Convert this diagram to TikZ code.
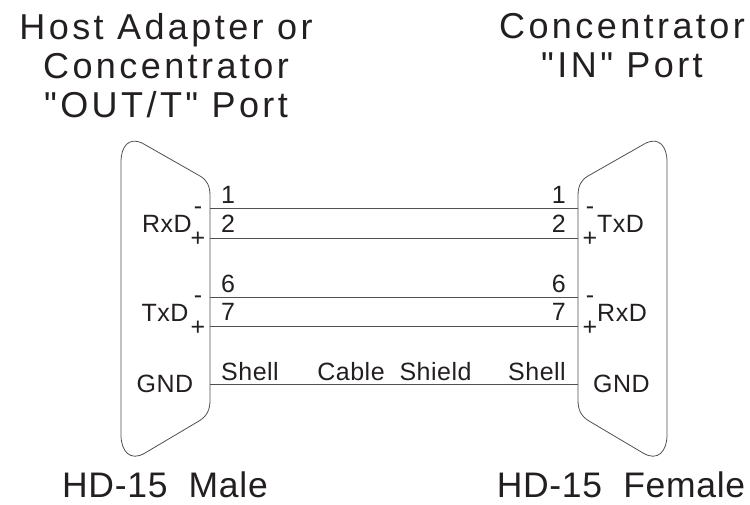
\documentclass[tikz,border=0pt]{standalone}
\usepackage{fontspec}
\newfontfamily\headfont{Liberation Sans}[LetterSpace=9.5]
\newfontfamily\footfont{Liberation Sans}[LetterSpace=2]
\newfontfamily\pinfont{Liberation Sans}[LetterSpace=2]
\definecolor{ink}{HTML}{231F20}
\definecolor{wire}{HTML}{505050}
\tikzset{
	headtext/.style={font=\headfont\fontsize{36}{39}\selectfont, text=ink, align=center, inner sep=0pt},
	foottext/.style={font=\footfont\fontsize{35.5}{39}\selectfont, text=ink, inner sep=0pt},
	pintext/.style={font=\pinfont\fontsize{25}{28}\selectfont, text=ink, inner sep=0pt},
	shell/.style={draw=wire, line width=0.8pt},
	cable/.style={draw=wire, line width=0.8pt}
}
% outline of one D-sub shell, narrow side to the right
\def\dshell[#1]{\draw[#1] (121,162) .. controls (121,146) and (129,137) .. (142,143) -- (200,176)
	.. controls (207,180) and (210,186) .. (210,196) -- (210,400)
	.. controls (210,410) and (207,416) .. (199,421) -- (145,453)
	.. controls (130,462) and (121,451) .. (121,435) -- cycle;}

\begin{document}
\begin{tikzpicture}[x=1pt, y=-1pt]
	\useasboundingbox (0,0) rectangle (750,505);
	%%%%% TITLES %%%%%
	\node[headtext, anchor=north] (hostttl) at (166,13) {Host Adapter or\\Concentrator\\"OUT/T" Port};
	\node[headtext, anchor=north] (concttl) at (622,13) {Concentrator\\"IN" Port};
	\node[foottext, anchor=base] (male) at (165,497) {HD-15~~Male};
	\node[foottext, anchor=base] (female) at (621,497) {HD-15~~Female};

	%%%%% SHELLS %%%%%
	\dshell[shell]
	\begin{scope}[xshift=788pt, xscale=-1]
		\dshell[shell]
	\end{scope}

	%%%%% WIRES %%%%%
	\foreach \n/\y in {a/208, b/238, c/297, d/326, e/384} {
		\coordinate (wl\n) at (210,\y);
		\coordinate (wr\n) at (578,\y);
		\draw[cable] (wl\n) -- (wr\n);
	}
	\foreach \p/\y in {1/204, 2/233, 6/292, 7/320} {
		\node[pintext, anchor=base west] (lp\p) at (221,\y) {\p};
		\node[pintext, anchor=base east] (rp\p) at (566,\y) {\p};
	}
	\node[pintext, anchor=base west] (lshell) at (221,380) {Shell};
	\node[pintext, anchor=base] (shield) at (394.5,380) {Cable~~Shield};
	\node[pintext, anchor=base east] (rshell) at (566,380) {Shell};

	%%%%% SIGNALS %%%%%
	\node[pintext, anchor=base] (lrxd) at (167,233) {RxD};
	\node[pintext, anchor=base] (lrxdm) at (198,215) {-};
	\node[pintext, anchor=base] (lrxdp) at (198,247) {+};
	\node[pintext, anchor=base] (ltxd) at (165,321) {TxD};
	\node[pintext, anchor=base] (ltxdm) at (198,303) {-};
	\node[pintext, anchor=base] (ltxdp) at (198,335) {+};
	\node[pintext, anchor=base] (lgnd) at (165,392) {GND};

	\node[pintext, anchor=base] (rtxd) at (620.5,233) {TxD};
	\node[pintext, anchor=base] (rtxdm) at (590,215) {-};
	\node[pintext, anchor=base] (rtxdp) at (590,247) {+};
	\node[pintext, anchor=base] (rrxd) at (622,321) {RxD};
	\node[pintext, anchor=base] (rrxdm) at (590,303) {-};
	\node[pintext, anchor=base] (rrxdp) at (590,335) {+};
	\node[pintext, anchor=base] (rgnd) at (621.5,392) {GND};
\end{tikzpicture}
\end{document}
